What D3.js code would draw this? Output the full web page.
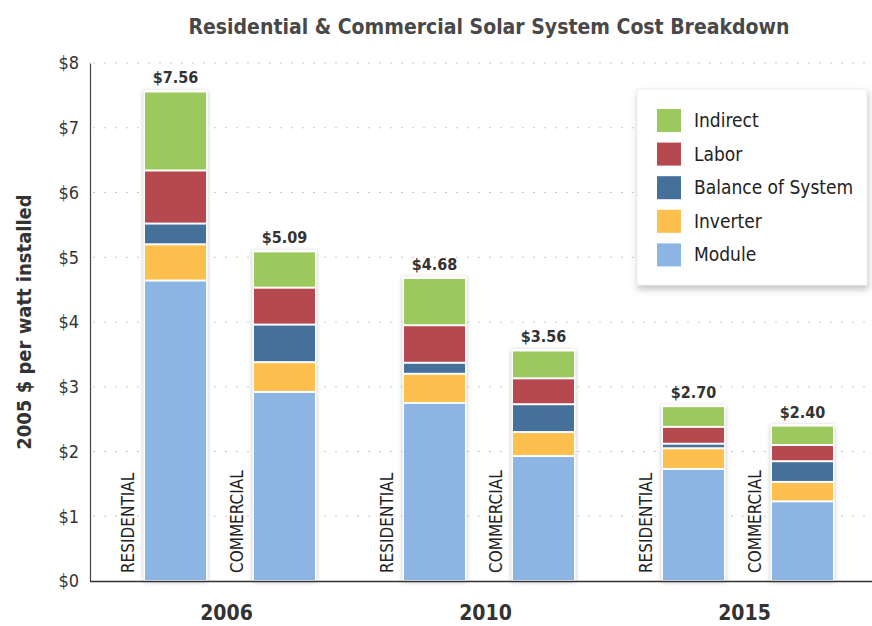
<!DOCTYPE html>
<html>
<head>
<meta charset="utf-8">
<script src="https://cdn.jsdelivr.net/npm/d3@7"></script>
<style>
  body { margin: 0; background: #fff; }
  svg text { font-family: "DejaVu Sans", sans-serif; font-stretch: condensed; }
</style>
</head>
<body>
<svg id="chart" width="872" height="626"></svg>
<script>
// Chart data
const years = ['2006', '2010', '2015'];
const sectors = ['RESIDENTIAL', 'COMMERCIAL'];
const components = ['Module', 'Inverter', 'Balance of System', 'Labor', 'Indirect'];
const legendOrder = ['Indirect', 'Labor', 'Balance of System', 'Inverter', 'Module'];
const componentColors = ['#8db5e3', '#fdc04f', '#44709a', '#b5494f', '#9cc95e'];

// one value per bar, order: 2006 res, 2006 com, 2010 res, 2010 com, 2015 res, 2015 com
const moduleCost   = [4.64, 2.92, 2.75, 1.93, 1.73, 1.23];
const inverterCost = [0.56, 0.46, 0.45, 0.37, 0.32, 0.30];
const bosCost      = [0.32, 0.58, 0.17, 0.43, 0.07, 0.32];
const laborCost    = [0.82, 0.57, 0.58, 0.40, 0.26, 0.25];
const indirectCost = [1.22, 0.56, 0.73, 0.43, 0.32, 0.30];
const totalLabels  = ['$7.56', '$5.09', '$4.68', '$3.56', '$2.70', '$2.40'];

const yTicks = [0, 1, 2, 3, 4, 5, 6, 7, 8];

// build rows for d3.stack
const rows = [];
years.forEach((yr, i) => {
  sectors.forEach((s, j) => {
    const k = i * 2 + j;
    rows.push({
      year: yr, sector: s, label: totalLabels[k],
      'Module': moduleCost[k],
      'Inverter': inverterCost[k],
      'Balance of System': bosCost[k],
      'Labor': laborCost[k],
      'Indirect': indirectCost[k]
    });
  });
});

const svg = d3.select('#chart');

const defs = svg.append('defs');
defs.append('filter').attr('id', 'barShadow')
  .attr('x', '-20%').attr('y', '-5%').attr('width', '140%').attr('height', '110%')
  .append('feDropShadow')
  .attr('dx', 0).attr('dy', 1).attr('stdDeviation', 2)
  .attr('flood-color', '#888').attr('flood-opacity', 0.55);
defs.append('filter').attr('id', 'boxShadow')
  .attr('x', '-10%').attr('y', '-10%').attr('width', '120%').attr('height', '125%')
  .append('feDropShadow')
  .attr('dx', 1).attr('dy', 4).attr('stdDeviation', 3)
  .attr('flood-color', '#888').attr('flood-opacity', 0.5);

const x0 = d3.scaleBand().domain(years).range([97, 874]);
const x1 = d3.scaleBand().domain(sectors).range([48, 218]).paddingInner(0.44).paddingOuter(0);
const y = d3.scaleLinear().domain([0, 8]).range([581, 63]);
const color = d3.scaleOrdinal().domain(components).range(componentColors);

const stacked = d3.stack().keys(components)(rows);

// title
svg.append('text')
  .attr('x', 489).attr('y', 34)
  .attr('text-anchor', 'middle')
  .style('font-size', '21px').style('font-weight', 'bold')
  .style('fill', '#484848')
  .text('Residential & Commercial Solar System Cost Breakdown');

// gridlines
svg.append('g')
  .selectAll('line')
  .data(yTicks.filter(d => d > 0))
  .enter()
  .append('line')
  .attr('x1', 93).attr('x2', 872)
  .attr('y1', d => y(d)).attr('y2', d => y(d))
  .attr('stroke', '#c8c8c8')
  .attr('stroke-width', 1)
  .attr('stroke-dasharray', '2,9');

// y axis
const yAxis = d3.axisLeft(y)
  .tickValues(yTicks)
  .tickFormat(d => '$' + d)
  .tickSize(0)
  .tickPadding(11);

const yg = svg.append('g')
  .attr('transform', 'translate(90,0)')
  .call(yAxis);
yg.select('.domain').attr('stroke', '#444').attr('stroke-width', 1.2);
yg.selectAll('text')
  .style('font-size', '18px')
  .style('fill', '#333');

svg.append('text')
  .attr('transform', 'translate(31,322) rotate(-90)')
  .attr('text-anchor', 'middle')
  .style('font-size', '20px').style('font-weight', 'bold')
  .style('fill', '#333')
  .text('2005 $ per watt installed');

// bars
const barGroups = svg.append('g')
  .selectAll('g.bar')
  .data(rows)
  .enter()
  .append('g')
  .attr('class', 'bar')
  .attr('transform', d => 'translate(' + (x0(d.year) + x1(d.sector)) + ',0)');

// white outline + shadow behind each bar
barGroups.append('rect')
  .attr('x', -1.5)
  .attr('width', x1.bandwidth() + 3)
  .attr('y', (d, i) => y(stacked[stacked.length - 1][i][1]) - 1.5)
  .attr('height', (d, i) => y(0) - y(stacked[stacked.length - 1][i][1]) + 1.5)
  .attr('fill', '#fff')
  .attr('filter', 'url(#barShadow)');

barGroups.each(function(d, i) {
  d3.select(this).selectAll('rect.seg')
    .data(stacked.map(s => ({ key: s.key, v: s[i] })))
    .enter()
    .append('rect')
    .attr('class', 'seg')
    .attr('x', 0)
    .attr('width', x1.bandwidth())
    .attr('y', s => y(s.v[1]) + 1)
    .attr('height', s => Math.max(0, y(s.v[0]) - y(s.v[1]) - 2))
    .attr('fill', s => color(s.key));
});

// total labels
barGroups.append('text')
  .attr('x', x1.bandwidth() / 2)
  .attr('y', (d, i) => y(stacked[stacked.length - 1][i][1]) - 8)
  .attr('text-anchor', 'middle')
  .style('font-size', '16px').style('font-weight', 'bold')
  .style('fill', '#333')
  .text(d => d.label);

// sector labels
barGroups.append('text')
  .attr('transform', 'translate(-11,573) rotate(-90)')
  .attr('text-anchor', 'start')
  .style('font-size', '17px')
  .style('fill', '#222')
  .text(d => d.sector);

// x axis line
svg.append('line')
  .attr('x1', 90).attr('x2', 872)
  .attr('y1', y(0) + 0.5).attr('y2', y(0) + 0.5)
  .attr('stroke', '#333').attr('stroke-width', 1.5);

// year labels
const xAxis = d3.axisBottom(x0).tickSize(0).tickPadding(24);
const xg = svg.append('g')
  .attr('transform', 'translate(0,' + y(0) + ')')
  .call(xAxis);
xg.select('.domain').remove();
xg.selectAll('text')
  .style('font-size', '21px').style('font-weight', 'bold')
  .style('fill', '#333');

// legend
const legend = svg.append('g').attr('transform', 'translate(637,89)');
legend.append('rect')
  .attr('width', 230).attr('height', 196)
  .attr('fill', '#fff')
  .attr('stroke', '#eee')
  .attr('filter', 'url(#boxShadow)');

const items = legend.selectAll('g.item')
  .data(legendOrder)
  .enter()
  .append('g')
  .attr('class', 'item')
  .attr('transform', (d, i) => 'translate(20,' + (20 + i * 33.6) + ')');

items.append('rect')
  .attr('width', 24).attr('height', 23)
  .attr('fill', d => color(d));

items.append('text')
  .attr('x', 37).attr('y', 18)
  .style('font-size', '19px')
  .style('fill', '#222')
  .text(d => d);
</script>
</body>
</html>
